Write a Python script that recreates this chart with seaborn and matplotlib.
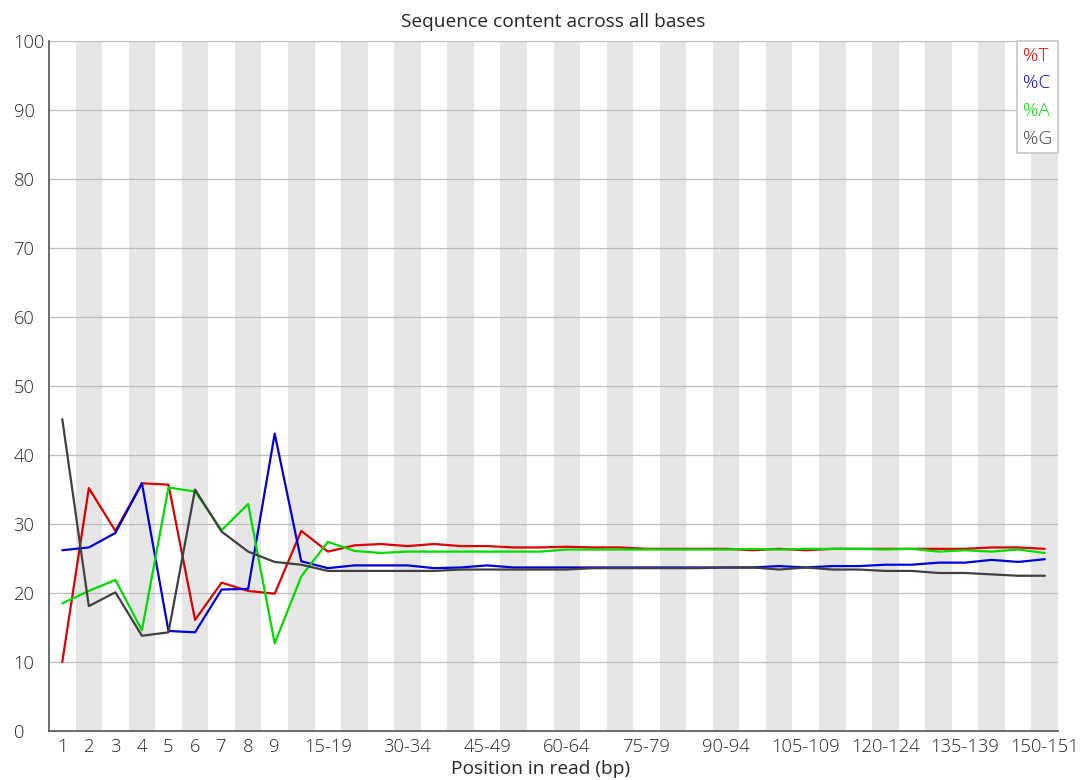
import matplotlib
matplotlib.use("Agg")
import matplotlib.pyplot as plt
import seaborn as sns
import pandas as pd

# Read positions: single bases 1-9, then 5 bp bins up to the end of the read
positions = [str(i) for i in range(1, 10)] + [f"{s}-{s + 4}" for s in range(10, 150, 5)] + ["150-151"]

pct_t = [10.0, 35.2, 29.0, 35.9, 35.7, 16.1, 21.5, 20.3, 19.9, 29.0, 26.0, 26.9,
         27.1, 26.8, 27.1, 26.8, 26.8, 26.6, 26.6, 26.7, 26.6, 26.6, 26.4, 26.4,
         26.4, 26.4, 26.2, 26.4, 26.2, 26.4, 26.4, 26.4, 26.4, 26.4, 26.4, 26.6,
         26.6, 26.4]
pct_c = [26.2, 26.6, 28.7, 35.9, 14.5, 14.3, 20.5, 20.6, 43.1, 24.6, 23.6, 24.0,
         24.0, 24.0, 23.6, 23.7, 24.0, 23.7, 23.7, 23.7, 23.7, 23.7, 23.7, 23.7,
         23.7, 23.7, 23.7, 23.9, 23.7, 23.9, 23.9, 24.1, 24.1, 24.4, 24.4, 24.8,
         24.5, 24.9]
pct_a = [18.5, 20.3, 21.9, 14.6, 35.3, 34.7, 29.1, 32.9, 12.7, 22.4, 27.4, 26.1,
         25.8, 26.0, 26.0, 26.0, 26.0, 26.0, 26.0, 26.3, 26.3, 26.3, 26.3, 26.3,
         26.3, 26.3, 26.4, 26.3, 26.4, 26.4, 26.4, 26.3, 26.4, 26.0, 26.2, 26.0,
         26.3, 25.8]
pct_g = [45.2, 18.1, 20.1, 13.8, 14.3, 35.0, 28.9, 26.0, 24.5, 24.1, 23.2, 23.2,
         23.2, 23.2, 23.2, 23.4, 23.4, 23.4, 23.4, 23.4, 23.6, 23.6, 23.6, 23.6,
         23.6, 23.7, 23.7, 23.4, 23.7, 23.4, 23.4, 23.2, 23.2, 22.9, 22.9, 22.7,
         22.5, 22.5]

bases = ["%T", "%C", "%A", "%G"]
colors = ["#dc0000", "#0000dc", "#00dc00", "#404040"]
y_ticks = list(range(0, 101, 10))
label_idx = list(range(0, 9)) + list(range(10, len(positions), 3))

df = pd.concat(
    [pd.DataFrame({"pos": range(len(positions)), "base": b, "pct": v})
     for b, v in zip(bases, [pct_t, pct_c, pct_a, pct_g])],
    ignore_index=True,
)

sns.set_theme(style="white")
plt.rcParams["font.family"] = ["Open Sans", "DejaVu Sans"]
plt.rcParams["font.weight"] = "light"
text_color = "#262626"
fs_text = 13.8
fs_tick = 13.2

fig = plt.figure(figsize=(10.81, 7.80), dpi=100)
ax = fig.add_axes([49 / 1081, 49 / 780, 1009 / 1081, 690 / 780])

# Alternating shaded columns
for i in range(1, len(positions), 2):
    ax.axvspan(i - 0.5, i + 0.5, color="#e6e6e6", lw=0, zorder=0)

for y in y_ticks[1:]:
    ax.axhline(y, color="#bebebe", lw=0.9, zorder=1)

sns.lineplot(data=df, x="pos", y="pct", hue="base", hue_order=bases,
             palette=colors, linewidth=1.6, sort=False, ax=ax, zorder=3)

ax.set_xlim(-0.5, len(positions) - 0.5)
ax.set_ylim(0, 100)
ax.set_yticks(y_ticks)
ax.set_yticklabels([str(t) for t in y_ticks], ha="left")
ax.set_xticks(label_idx)
ax.set_xticklabels([positions[i] for i in label_idx])
ax.tick_params(axis="y", length=0, pad=25.5, labelsize=fs_tick, labelcolor=text_color)
ax.tick_params(axis="x", length=0, pad=5, labelsize=fs_tick, labelcolor=text_color)

for side in ("top", "right"):
    ax.spines[side].set_visible(False)
for side in ("left", "bottom"):
    ax.spines[side].set_color("#606060")
    ax.spines[side].set_linewidth(1.3)

ax.set_title("Sequence content across all bases", fontsize=fs_text, color=text_color, pad=10)
ax.set_xlabel("Position in read (bp)", fontsize=fs_text, color=text_color, labelpad=3)
# x-axis title sits at the centre of the whole figure rather than the axes
ax.xaxis.label.set_x((540.5 - 49) / 1009)
ax.set_ylabel("")

handles, labels = ax.get_legend_handles_labels()
leg = ax.legend(handles, labels, loc="upper right", handlelength=0, handletextpad=0,
                labelcolor="linecolor", fontsize=fs_text, frameon=True, fancybox=False,
                edgecolor="#c8c8c8", framealpha=1, borderaxespad=0, borderpad=0.3,
                labelspacing=0.5)
leg.get_frame().set_linewidth(1.2)
leg.set_zorder(5)

fig.savefig("out.png", dpi=100)
